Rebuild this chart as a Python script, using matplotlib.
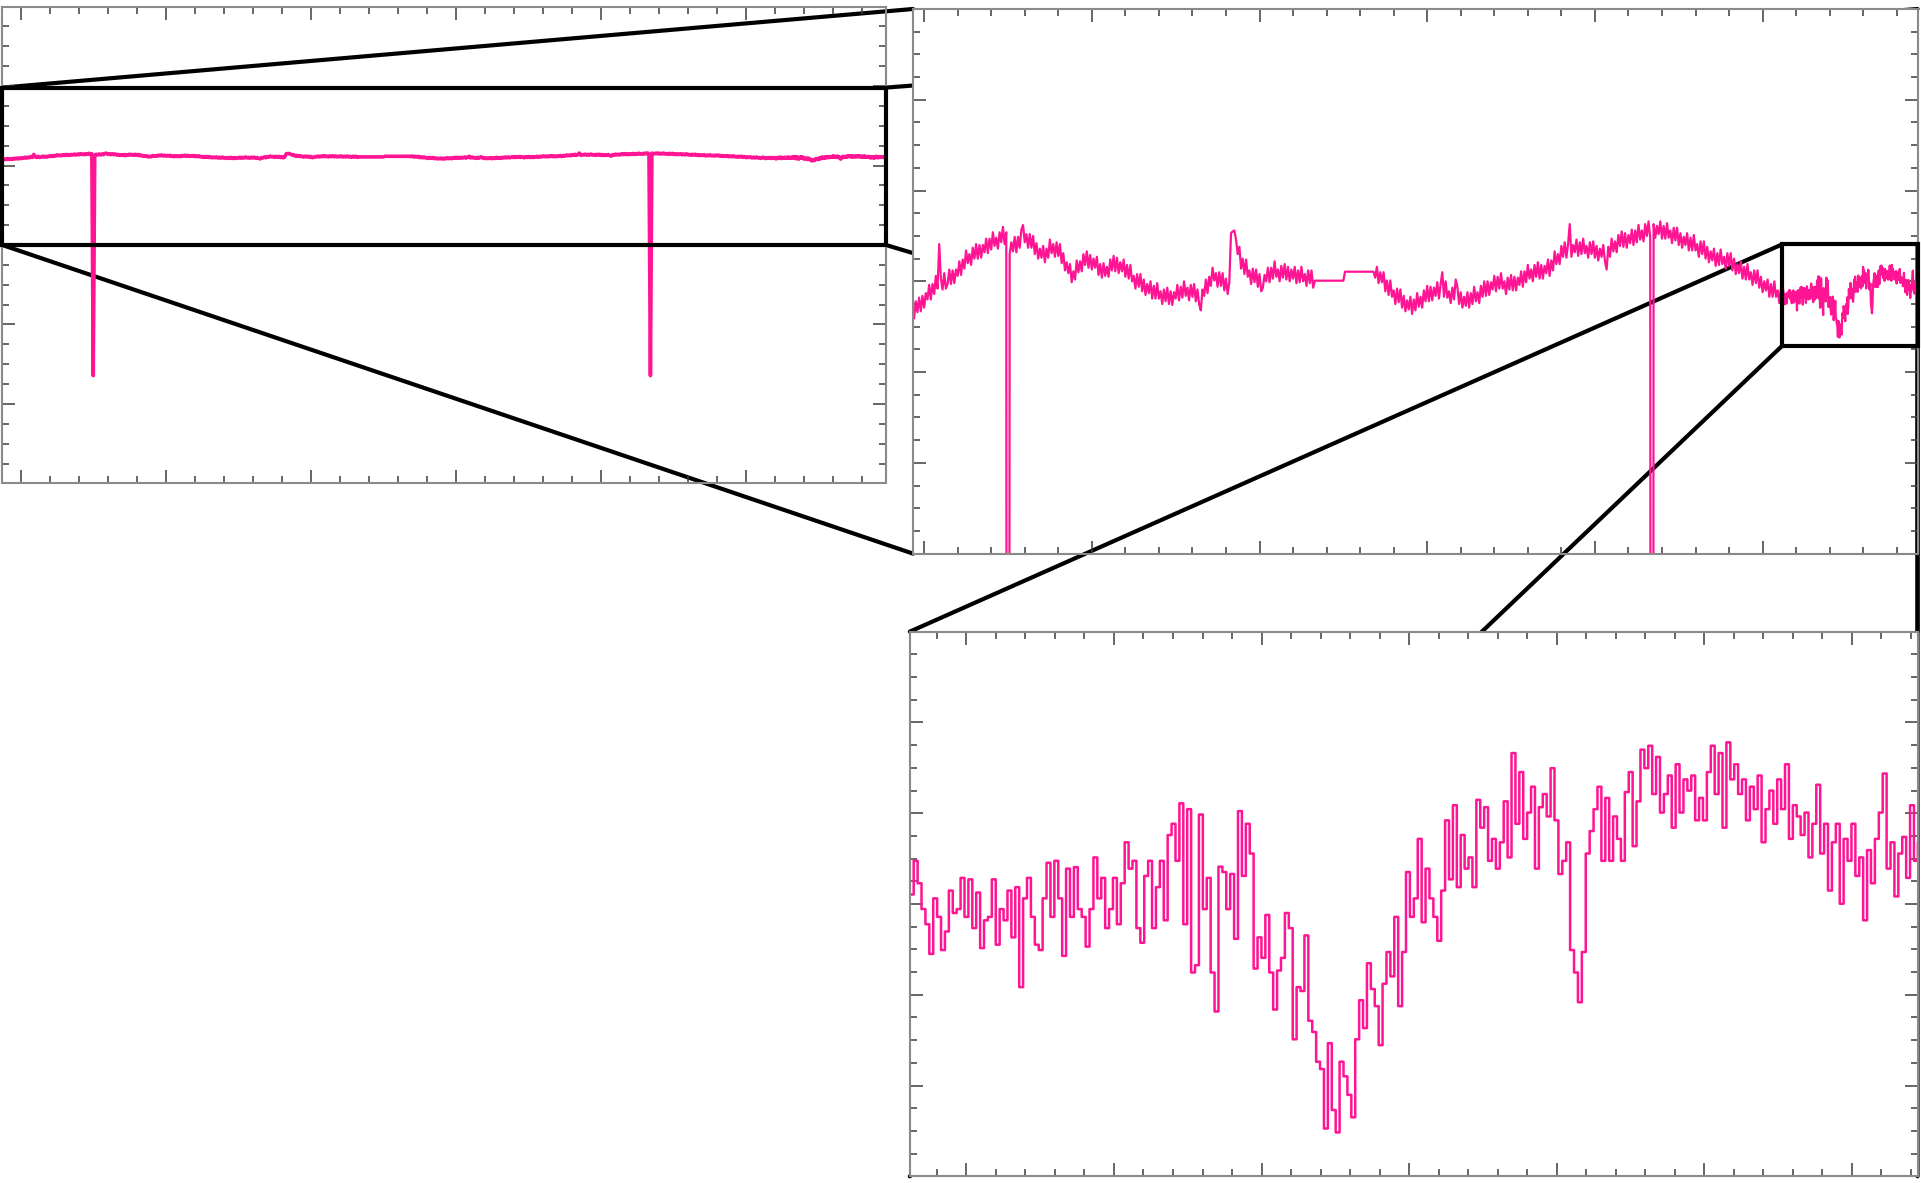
import numpy as np
import matplotlib.pyplot as plt
from matplotlib.patches import Rectangle, ConnectionPatch
from matplotlib.ticker import MultipleLocator, FixedLocator

# slow record, one reading every 0.01 h (the two dropouts read -2376)
t_coarse = -0.13 + 0.01 * np.arange(525)
level_coarse = [
    1168, 1152, 1168, 1156, 1175, 1160, 1170, 1159, 1178, 1166,
    1182, 1167, 1184, 1171, 1187, 1180, 1196, 1180, 1197, 1186,
    1206, 1192, 1241, 1203, 1191, 1209, 1192, 1197, 1213, 1197,
    1212, 1198, 1213, 1206, 1222, 1207, 1224, 1214, 1234, 1220,
    1230, 1218, 1237, 1225, 1241, 1225, 1240, 1226, 1240, 1232,
    1247, 1231, 1247, 1235, 1254, 1239, 1248, 1236, 1254, 1243,
    1260, 1241, 1254, -2376, 1230, 1243, 1233, 1249, 1232, 1249,
    1237, 1257, 1262, 1243, 1252, 1237, 1252, 1237, 1250, 1230,
    1242, 1225, 1236, 1226, 1239, 1221, 1236, 1226, 1246, 1231,
    1241, 1227, 1243, 1228, 1241, 1220, 1231, 1212, 1221, 1209,
    1219, 1199, 1211, 1202, 1223, 1210, 1222, 1211, 1230, 1218,
    1233, 1215, 1229, 1213, 1225, 1215, 1227, 1207, 1219, 1204,
    1220, 1206, 1216, 1205, 1224, 1212, 1228, 1211, 1226, 1209,
    1221, 1211, 1224, 1205, 1218, 1203, 1218, 1200, 1206, 1192,
    1208, 1194, 1208, 1189, 1202, 1185, 1197, 1187, 1200, 1181,
    1195, 1181, 1198, 1181, 1189, 1175, 1191, 1178, 1193, 1175,
    1189, 1174, 1188, 1181, 1196, 1179, 1194, 1182, 1200, 1184,
    1193, 1179, 1196, 1183, 1197, 1178, 1191, 1175, 1168, 1191,
    1184, 1202, 1187, 1205, 1195, 1215, 1201, 1209, 1194, 1210,
    1195, 1209, 1190, 1203, 1186, 1199, 1253, 1255, 1256, 1246,
    1230, 1238, 1214, 1225, 1208, 1224, 1205, 1212, 1197, 1214,
    1199, 1213, 1194, 1208, 1189, 1193, 1207, 1200, 1215, 1199,
    1215, 1203, 1222, 1205, 1213, 1200, 1217, 1204, 1219, 1202,
    1216, 1200, 1213, 1203, 1216, 1198, 1212, 1199, 1216, 1200,
    1208, 1195, 1212, 1198, 1212, 1193,
] + [1200.7] * 18 + [1210.6] * 18 + [
    1204, 1216, 1198, 1210, 1199, 1210, 1189, 1201,
    1185, 1201, 1183, 1190, 1175, 1192, 1177, 1191, 1171, 1184,
    1167, 1179, 1169, 1183, 1164, 1180, 1168, 1187, 1172, 1183,
    1171, 1190, 1178, 1195, 1178, 1194, 1179, 1193, 1184, 1199,
    1181, 1197, 1210, 1183, 1200, 1182, 1189, 1176, 1193, 1180,
    1202, 1194, 1175, 1188, 1171, 1183, 1173, 1188, 1171, 1187,
    1175, 1194, 1178, 1188, 1176, 1195, 1183, 1200, 1184, 1200,
    1185, 1199, 1191, 1206, 1189, 1205, 1192, 1209, 1192, 1200,
    1186, 1204, 1191, 1207, 1190, 1205, 1190, 1204, 1196, 1211,
    1194, 1211, 1199, 1218, 1203, 1213, 1200, 1218, 1205, 1221,
    1203, 1218, 1203, 1217, 1209, 1224, 1206, 1223, 1212, 1233,
    1219, 1230, 1219, 1239, 1227, 1243, 1226, 1241, 1263, 1227,
    1240, 1232, 1246, 1228, 1243, 1230, 1247, 1231, 1239, 1226,
    1243, 1230, 1244, 1226, 1239, 1223, 1236, 1227, 1240, 1222,
    1213, 1238, 1227, 1247, 1233, 1244, 1232, 1251, 1239, 1255,
    1238, 1253, 1237, 1251, 1242, 1257, 1240, 1256, 1243, 1262,
    1246, 1256, 1244, 1263, 1250, 1266, 1248, -2376, 1263, 1248,
    1261, 1252, 1266, 1247, 1261, 1247, 1264, 1248, 1256, 1242,
    1259, 1245, 1259, 1240, 1253, 1237, 1249, 1240, 1253, 1234,
    1248, 1234, 1251, 1234, 1241, 1227, 1244, 1230, 1244, 1225,
    1238, 1221, 1233, 1223, 1236, 1217, 1231, 1218, 1235, 1219,
    1227, 1214, 1231, 1217, 1231, 1212, 1225, 1208, 1219, 1209,
    1222, 1203, 1216, 1202, 1219, 1202, 1210, 1196, 1212, 1198,
    1212, 1193, 1205, 1188, 1200, 1190, 1202, 1183, 1197, 1183,
    1200, 1183, 1190, 1176, 1193,
]

# fast-sampled stretch at the end of the run
t_fine = 5.1175 + 0.003127 * np.arange(273)
level_fine = [
    1186.9, 1193.8, 1189.2, 1183.9, 1180.8, 1174.7, 1186.1, 1182.3, 1175.5, 1179.3,
    1187.7, 1183.1, 1183.9, 1190.3, 1182.3, 1190.0, 1180.0, 1187.3, 1175.9, 1181.6,
    1182.3, 1190.0, 1176.6, 1183.9, 1181.6, 1187.7, 1178.1, 1188.4, 1167.9, 1186.1,
    1190.3, 1182.3, 1176.6, 1175.5, 1186.1, 1193.4, 1182.3, 1193.8, 1186.1, 1174.3,
    1192.2, 1182.3, 1192.5, 1183.9, 1182.3, 1176.2, 1183.9, 1194.5, 1186.1, 1190.3,
    1180.0, 1183.9, 1190.3, 1180.8, 1189.2, 1197.6, 1192.2, 1193.8, 1180.0, 1177.0,
    1190.7, 1193.8, 1180.0, 1188.4, 1193.8, 1181.6, 1199.1, 1201.4, 1193.8, 1205.6,
    1180.8, 1204.4, 1170.9, 1172.4, 1203.3, 1183.9, 1190.3, 1170.9, 1162.9, 1192.6,
    1191.5, 1183.9, 1191.1, 1177.8, 1204.0, 1190.7, 1201.4, 1195.3, 1171.7, 1178.1,
    1173.9, 1182.7, 1170.9, 1163.3, 1171.3, 1173.9, 1183.1, 1180.0, 1157.2, 1167.9,
    1167.1, 1178.5, 1161.0, 1158.7, 1152.6, 1151.1, 1138.9, 1156.4, 1142.7, 1138.1,
    1152.6, 1149.6, 1145.8, 1141.2, 1157.2, 1165.2, 1159.5, 1172.8, 1167.5, 1164.0,
    1156.0, 1168.6, 1175.1, 1170.1, 1182.3, 1164.0, 1175.1, 1191.5, 1182.3, 1186.1,
    1198.3, 1181.2, 1192.2, 1186.1, 1182.3, 1177.4, 1187.7, 1202.1, 1190.0, 1205.2,
    1188.4, 1199.1, 1192.2, 1194.5, 1188.4, 1206.3, 1200.6, 1204.8, 1193.8, 1198.3,
    1192.2, 1197.6, 1206.0, 1194.5, 1215.9, 1201.4, 1212.0, 1198.3, 1203.7, 1209.0,
    1192.2, 1204.8, 1207.5, 1202.9, 1212.8, 1202.1, 1191.1, 1193.8, 1197.6, 1175.5,
    1170.9, 1164.8, 1175.1, 1195.3, 1199.9, 1204.4, 1209.0, 1193.8, 1206.7, 1193.8,
    1202.9, 1198.3, 1193.8, 1207.9, 1212.0, 1196.8, 1206.0, 1216.6, 1212.8, 1217.4,
    1207.5, 1215.1, 1203.7, 1207.5, 1211.3, 1200.6, 1213.6, 1203.7, 1210.5, 1208.2,
    1211.3, 1202.1, 1206.7, 1202.1, 1212.0, 1217.4, 1207.5, 1215.9, 1200.6, 1218.1,
    1210.5, 1213.6, 1207.5, 1210.5, 1202.1, 1209.0, 1204.4, 1211.3, 1197.6, 1204.4,
    1208.2, 1201.4, 1210.5, 1204.4, 1213.6, 1198.3, 1205.2, 1202.9, 1199.1, 1203.7,
    1194.5, 1201.4, 1209.4, 1195.3, 1201.4, 1187.7, 1197.6, 1201.4, 1185.0, 1198.3,
    1193.8, 1201.4, 1190.7, 1194.5, 1181.6, 1196.0, 1189.2, 1198.3, 1203.7, 1211.7,
    1192.2, 1197.6, 1186.5, 1195.3, 1198.7, 1190.3, 1205.2, 1193.8, 1197.6,
    1193.0, 1200.0, 1195.5, 1202.0, 1194.5, 1199.0, 1191.0, 1197.0, 1194.0, 1200.5,
    1196.0, 1192.0, 1198.0, 1195.0,
]

t = np.concatenate([t_coarse, t_fine])
level = np.concatenate([level_coarse, level_fine])

# view limits for the three panels
full_xlim, full_ylim = (-0.127, 5.9635), (-4140, 3660)
mid_xlim, mid_ylim = (-0.066, 5.924), (900, 1500)
zoom_xlim, zoom_ylim = (5.1175, 5.924), (1129.1, 1240.8)

LINE = '#ff1493'


def style(ax):
    for sp in ax.spines.values():
        sp.set_color('#8a8a8a')
        sp.set_linewidth(1.5)
    ax.tick_params(which='both', direction='in', top=True, right=True,
                   labelbottom=False, labelleft=False, color='#3c3c3c', width=1.1)
    ax.tick_params(which='major', length=9.5)
    ax.tick_params(which='minor', length=5)


fig = plt.figure(figsize=(19.21, 11.83), dpi=100)
ax_full = fig.add_axes([0.0012, 0.5913, 0.4600, 0.4032])
ax_mid = fig.add_axes([0.4753, 0.5320, 0.5229, 0.4604])
ax_zoom = fig.add_axes([0.4736, 0.00566, 0.5246, 0.4604])

ax_full.plot(t, level, color=LINE, lw=2.6)
ax_mid.plot(t, level, color=LINE, lw=1.6)
ax_zoom.plot(t, level, color=LINE, lw=1.8, drawstyle='steps-post')

ax_full.set_xlim(full_xlim)
ax_full.set_ylim(full_ylim)
ax_mid.set_xlim(mid_xlim)
ax_mid.set_ylim(mid_ylim)
ax_zoom.set_xlim(zoom_xlim)
ax_zoom.set_ylim(zoom_ylim)

for ax in (ax_full, ax_mid):
    ax.xaxis.set_major_locator(MultipleLocator(1))
    ax.xaxis.set_minor_locator(MultipleLocator(0.2))
ax_full.yaxis.set_major_locator(FixedLocator(np.linspace(*full_ylim, 7)))
ax_full.yaxis.set_minor_locator(FixedLocator(np.linspace(*full_ylim, 25)))
ax_mid.yaxis.set_major_locator(MultipleLocator(100))
ax_mid.yaxis.set_minor_locator(MultipleLocator(25))

zstep = 0.1181
ax_zoom.xaxis.set_major_locator(FixedLocator(5.1628 + zstep * np.arange(-1, 8)))
ax_zoom.xaxis.set_minor_locator(FixedLocator(5.1628 + zstep / 5 * np.arange(-5, 40)))
ax_zoom.yaxis.set_major_locator(FixedLocator(np.linspace(*zoom_ylim, 7)))
ax_zoom.yaxis.set_minor_locator(FixedLocator(np.linspace(*zoom_ylim, 25)))

for ax in (ax_full, ax_mid, ax_zoom):
    style(ax)

# box on the overview and its links to the middle panel
ax_full.add_patch(Rectangle((0, 0.5), 1, 0.33, transform=ax_full.transAxes,
                            fill=False, ec='k', lw=3, clip_on=False, zorder=4))
for a, b in [((0, 0.83), (0, 1)), ((1, 0.83), (1, 1)),
             ((0, 0.5), (0, 0)), ((1, 0.5), (1, 0))]:
    con = ConnectionPatch(xyA=a, coordsA=ax_full.transAxes,
                          xyB=b, coordsB=ax_mid.transAxes, color='k', lw=3)
    ax_full.add_artist(con)
    con.set_clip_on(False)

# box on the middle panel around the fast-sampled stretch
x0, x1 = zoom_xlim
y0, y1 = zoom_ylim
ax_mid.add_patch(Rectangle((x0, y0), x1 - x0, y1 - y0, fill=False, ec='k',
                           lw=3, clip_on=False, zorder=4))
for a, b in [((x0, y1), (0, 1)), ((x1, y1), (1, 1)),
             ((x0, y0), (0, 0)), ((x1, y0), (1, 0))]:
    con = ConnectionPatch(xyA=a, coordsA=ax_mid.transData,
                          xyB=b, coordsB=ax_zoom.transAxes, color='k', lw=3)
    ax_mid.add_artist(con)
    con.set_clip_on(False)

fig.savefig('out.png', dpi=100)
